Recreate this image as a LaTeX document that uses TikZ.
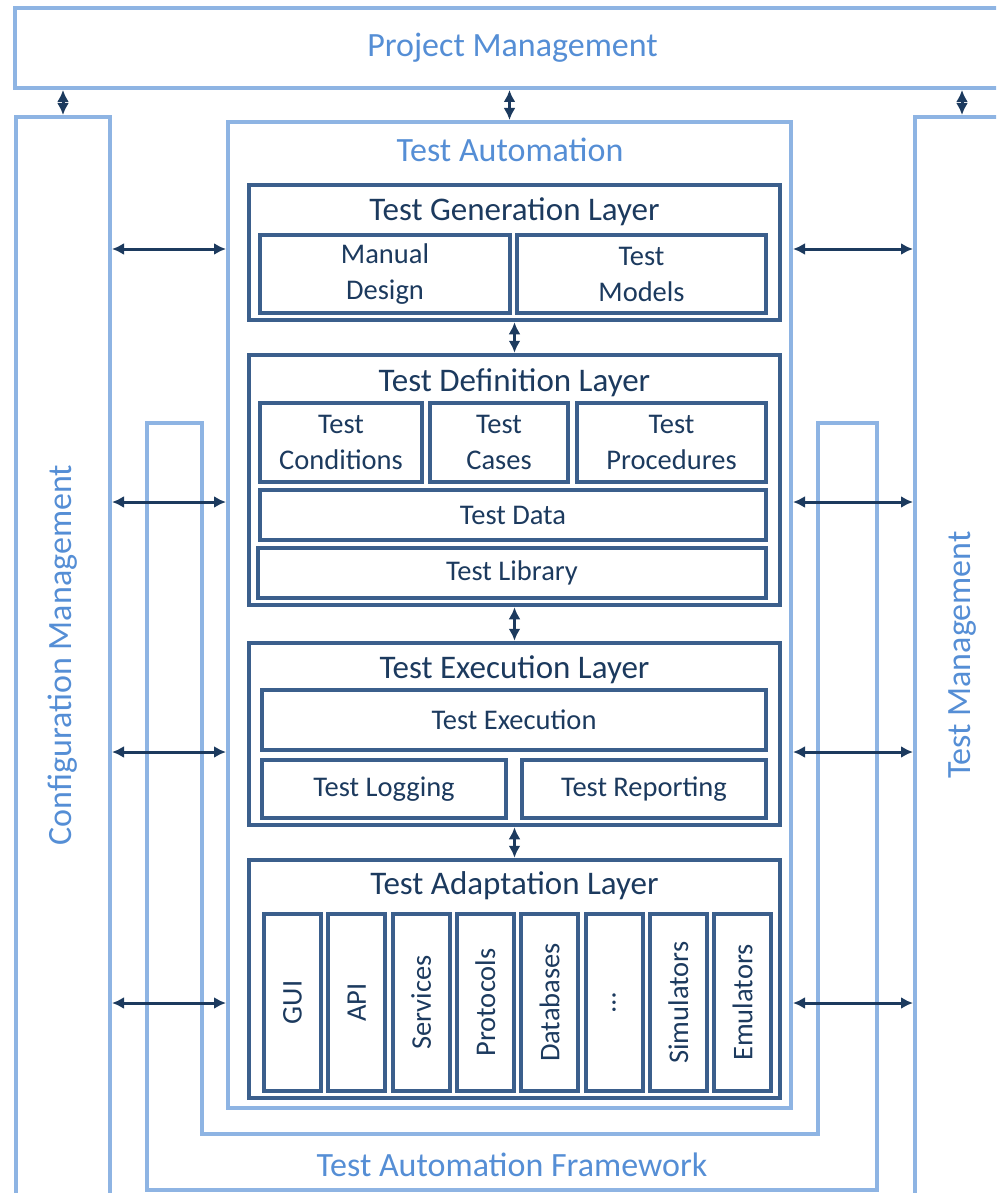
\documentclass[tikz,border=0pt]{standalone}
\usepackage{fontspec}
\setmainfont{Carlito}
\usetikzlibrary{arrows.meta}
\definecolor{paleblue}{HTML}{8EB4E3}
\definecolor{midblue}{HTML}{558ED5}
\definecolor{slate}{HTML}{3B5F8C}
\definecolor{navy}{HTML}{1C3A5E}
\tikzset{
	outer/.style={draw=paleblue,line width=4pt},
	big/.style={text=midblue,font=\fontsize{34}{40}\selectfont},
	layer/.style={draw=slate,line width=4.5pt,minimum width=531},
	heading/.style={text=navy,font=\fontsize{33}{38}\selectfont},
	part/.style={draw=slate,line width=4pt,text=navy,align=center,inner sep=0pt,font=\fontsize{28.5}{36}\selectfont},
	link/.style={navy,line width=3pt,{Latex[length=12pt,width=12pt]}-{Latex[length=12pt,width=12pt]}}
}
\begin{document}
\begin{tikzpicture}[x=1pt,y=-1pt]
	\useasboundingbox (0,0) rectangle (996,1193);
	\clip (0,0) rectangle (996,1193);
	\draw[outer] (147,423)--(147,1190)--(877,1190)--(877,423)--(818,423)--(818,1134)--(202,1134)--(202,423)--cycle;
	\node[big] (taf) at (512,1165) {Test Automation Framework};
	\node[outer,big,minimum width=995,minimum height=80] (pm) at (512.5,48) {Project Management};
	\node[outer,minimum width=94,minimum height=1088] (cm) at (63,661) {};
	\node[big,rotate=90] (cmtext) at (63,655) {Configuration Management};
	\node[outer,minimum width=94,minimum height=1088] (tm) at (962,661) {};
	\node[big,rotate=90] (tmtext) at (962,655) {Test Management};
	\node[outer,minimum width=563,minimum height=986] (ta) at (509.5,615) {};
	\node[big] (tatext) at (510,150) {Test Automation};
	\node[layer,minimum height=135] (gen) at (514.5,252.5) {};
	\node[heading] (gentitle) at ([yshift=-29pt]gen.north) {Test Generation Layer};
	\node[part,minimum width=250,minimum height=78] (manual) at (385,274) {Manual\\Design};
	\node[part,minimum width=249,minimum height=78] (models) at (641.5,274) {Test\\Models};
	\node[layer,minimum height=250] (def) at (514.5,480) {};
	\node[heading] (deftitle) at ([yshift=-30pt]def.north) {Test Definition Layer};
	\node[part,minimum width=162,minimum height=79] (cond) at (341,442.5) {Test\\Conditions};
	\node[part,minimum width=138,minimum height=79] (cases) at (499,442.5) {Test\\Cases};
	\node[part,minimum width=189,minimum height=79] (proc) at (671.5,442.5) {Test\\Procedures};
	\node[part,minimum width=506,minimum height=50] (data) at (513,515) {Test Data};
	\node[part,minimum width=508,minimum height=50] (library) at (512,573) {Test Library};
	\node[layer,minimum height=182] (exec) at (514.5,734) {};
	\node[heading] (exectitle) at ([yshift=-29pt]exec.north) {Test Execution Layer};
	\node[part,minimum width=504,minimum height=60] (run) at (514,720) {Test Execution};
	\node[part,minimum width=244,minimum height=58] (logging) at (384,789) {Test Logging};
	\node[part,minimum width=244,minimum height=58] (reporting) at (644,789) {Test Reporting};
	\node[layer,minimum height=238] (adapt) at (514.5,979) {};
	\node[heading] (adapttitle) at ([yshift=-28pt]adapt.north) {Test Adaptation Layer};
	\foreach \lbl [count=\i from 0] in {GUI,API,Services,Protocols,Databases,\textellipsis,Simulators,Emulators}
		\node[part,rotate=90,minimum width=177,minimum height=57] (ad\i) at (292.5+64.3*\i,1002.5) {\lbl};
	\draw[link] (gen) -- (def);
	\draw[link] (def) -- (exec);
	\draw[link] (exec) -- (adapt);
	\draw[link] (pm.south -| cm.north) -- (cm.north);
	\draw[link] (pm.south -| ta.north) -- (ta.north);
	\draw[link] (pm.south -| tm.north) -- (tm.north);
	\foreach \y in {249,502,752,1003}{
		\draw[link] (cm.east |- 0,\y) -- (ta.west |- 0,\y);
		\draw[link] (ta.east |- 0,\y) -- (tm.west |- 0,\y);
	}
\end{tikzpicture}
\end{document}
